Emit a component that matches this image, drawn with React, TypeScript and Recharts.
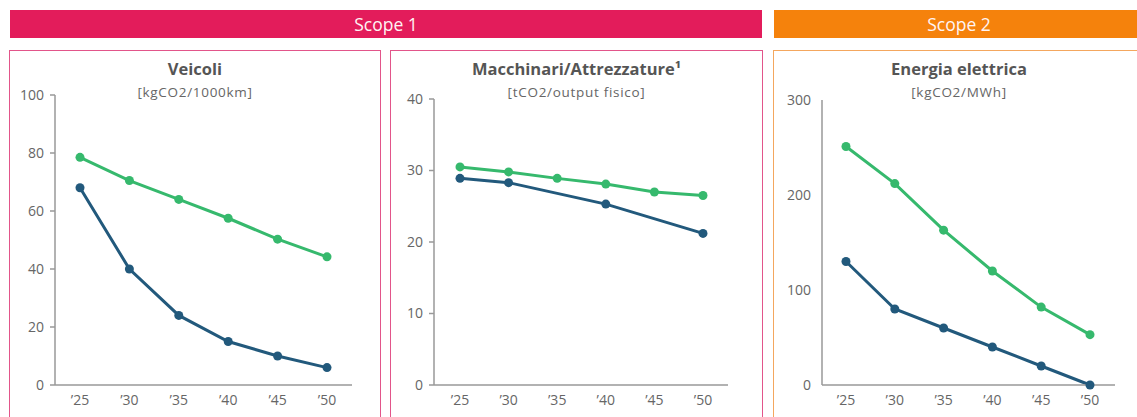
import { Line, LineChart, XAxis, YAxis } from 'recharts'

const years = ["’25", "’30", "’35", "’40", "’45", "’50"]

// Veicoli [kgCO2/1000km]
const veicoliGreen = [78.5, 70.5, 64, 57.5, 50.3, 44.2]
const veicoliBlue = [68, 40, 24, 15, 10, 6]
const veicoliTicks = [0, 20, 40, 60, 80, 100]

// Macchinari/Attrezzature [tCO2/output fisico]
const macchGreen = [30.5, 29.8, 28.9, 28.1, 27.0, 26.5]
const macchBlue = [28.9, 28.3, null, 25.3, null, 21.2]
const macchTicks = [0, 10, 20, 30, 40]

// Energia elettrica [kgCO2/MWh]
const energiaGreen = [251, 212, 163, 120, 82, 53]
const energiaBlue = [130, 80, 60, 40, 20, 0]
const energiaTicks = [0, 100, 200, 300]

const GREEN = '#36b96d'
const BLUE = '#22597c'
const PINK = '#e31c5b'
const ORANGE = '#f5820c'
const FONT = '"Open Sans", "DejaVu Sans", sans-serif'

type Row = { year: string; green: number | null; blue: number | null }

const rows = (g: (number | null)[], b: (number | null)[]): Row[] =>
  years.map((year, i) => ({ year, green: g[i], blue: b[i] }))

type ChartProps = {
  data: Row[]
  left: number
  width: number
  top: number
  right: number
  yWidth: number
  ticks: number[]
  tickLine: boolean
  pad: [number, number]
}

function MiniChart({ data, left, width, top, right, yWidth, ticks, tickLine, pad }: ChartProps) {
  const tickStyle = { fill: '#666', fontSize: 14, fontFamily: FONT }
  return (
    <div style={{ position: 'absolute', left, top: 0 }}>
      <LineChart
        width={width}
        height={417}
        data={data}
        margin={{ top, right, left: 0, bottom: 2 }}
      >
        <XAxis
          dataKey="year"
          tick={tickStyle}
          tickLine={false}
          axisLine={{ stroke: '#999', strokeWidth: 1.5 }}
          height={30}
          tickSize={6}
          tickMargin={4}
          interval={0}
          padding={{ left: pad[0], right: pad[1] }}
        />
        <YAxis
          domain={[ticks[0], ticks[ticks.length - 1]]}
          ticks={ticks}
          width={yWidth}
          tick={tickStyle}
          tickLine={tickLine ? { stroke: '#999', strokeWidth: 1.5 } : false}
          tickSize={5}
          tickMargin={6}
          axisLine={{ stroke: '#999', strokeWidth: 1.5 }}
          interval={0}
        />
        <Line
          dataKey="green"
          stroke={GREEN}
          strokeWidth={3}
          dot={{ r: 4.5, fill: GREEN, stroke: GREEN, strokeWidth: 0 }}
          isAnimationActive={false}
          connectNulls
        />
        <Line
          dataKey="blue"
          stroke={BLUE}
          strokeWidth={3}
          dot={{ r: 4.5, fill: BLUE, stroke: BLUE, strokeWidth: 0 }}
          isAnimationActive={false}
          connectNulls
        />
      </LineChart>
    </div>
  )
}

function Panel({ left, right, color, title, unit }: {
  left: number
  right: number
  color: string
  title: string
  unit: string
}) {
  return (
    <div
      style={{
        position: 'absolute',
        left,
        top: 50,
        width: right - left,
        height: 400,
        border: `1.5px solid ${color}`,
        boxSizing: 'border-box',
        fontFamily: FONT,
        textAlign: 'center',
      }}
    >
      <div style={{ position: 'absolute', top: 6, width: '100%', fontSize: 16.5, fontWeight: 700, color: '#555' }}>
        {title}
      </div>
      <div style={{ position: 'absolute', top: 32, width: '100%', fontSize: 13.5, color: '#666', letterSpacing: 0.7 }}>
        {unit}
      </div>
    </div>
  )
}

function Banner({ left, right, color, label }: { left: number; right: number; color: string; label: string }) {
  return (
    <div
      style={{
        position: 'absolute',
        left,
        top: 10,
        width: right - left,
        height: 28,
        background: color,
        color: '#fff4f4',
        fontFamily: FONT,
        fontSize: 17.5,
        lineHeight: '28px',
        textAlign: 'center',
      }}
    >
      {label}
    </div>
  )
}

export default function App() {
  return (
    <div
      style={{
        position: 'absolute',
        left: 0,
        top: 0,
        width: 1137,
        height: 417,
        overflow: 'hidden',
        background: '#fff',
      }}
    >
      <Banner left={10} right={762} color={PINK} label="Scope 1" />
      <Banner left={774} right={1144} color={ORANGE} label="Scope 2" />

      <Panel left={9} right={381} color="#e2558a" title="Veicoli" unit="[kgCO2/1000km]" />
      <Panel left={390} right={763} color="#e2558a" title="Macchinari/Attrezzature¹" unit="[tCO2/output fisico]" />
      <Panel left={773} right={1145} color="#f4a75e" title="Energia elettrica" unit="[kgCO2/MWh]" />

      <MiniChart
        data={rows(veicoliGreen, veicoliBlue)}
        left={0}
        width={380}
        top={95}
        right={28}
        yWidth={55}
        ticks={veicoliTicks}
        tickLine
        pad={[25, 25]}
      />
      <MiniChart
        data={rows(macchGreen, macchBlue)}
        left={380}
        width={382}
        top={99}
        right={34}
        yWidth={54}
        ticks={macchTicks}
        tickLine
        pad={[26, 25]}
      />
      <MiniChart
        data={rows(energiaGreen, energiaBlue)}
        left={762}
        width={375}
        top={100}
        right={22}
        yWidth={60}
        ticks={energiaTicks}
        tickLine={false}
        pad={[24, 25]}
      />
    </div>
  )
}
